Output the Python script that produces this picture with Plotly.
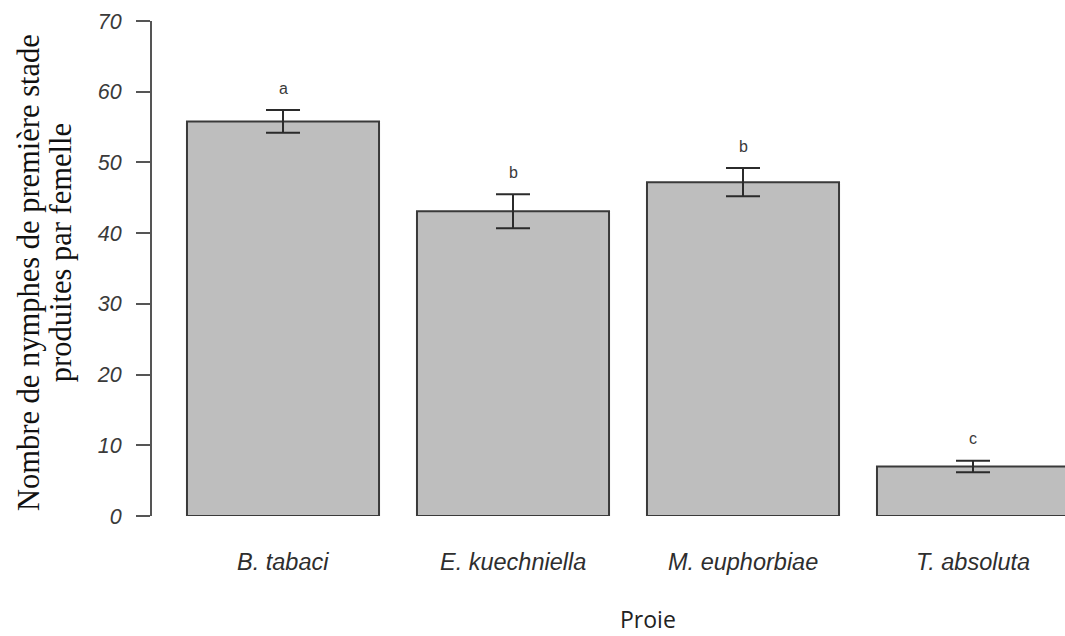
import plotly.graph_objects as go

# Prey species and mean number of first-stage nymphs per female
proies = ["B. tabaci", "E. kuechniella", "M. euphorbiae", "T. absoluta"]
moyennes = [55.8, 43.1, 47.2, 7.0]
erreurs = [1.6, 2.4, 2.0, 0.8]
lettres = ["a", "b", "b", "c"]
y_ticks = [0, 10, 20, 30, 40, 50, 60, 70]
titre_y = ["Nombre de nymphes de première stade", "produites par femelle"]

pos = list(range(len(proies)))
SANS = "Liberation Sans, Arial"

fig = go.Figure()
fig.add_trace(go.Bar(
    x=pos, y=moyennes, width=0.835,
    marker=dict(color="#bebebe", line=dict(color="#3a3a3a", width=2)),
    error_y=dict(type="data", array=erreurs, visible=True,
                 color="#2b2b2b", thickness=2, width=17),
    showlegend=False, hoverinfo="skip",
))

# significance letters above each error bar
for p, m, e, l in zip(pos, moyennes, erreurs, lettres):
    fig.add_annotation(x=p, y=m + e, text=l, showarrow=False,
                       yshift=22, yanchor="middle",
                       font=dict(family=SANS, size=16, color="#3a3a3a"))

# category labels under the bars
for p, name in zip(pos, proies):
    fig.add_annotation(x=p, y=0, yref="y", text=name, showarrow=False,
                       yshift=-46, yanchor="middle",
                       font=dict(family=SANS, size=23.5, color="#2e2e2e", style="italic"))

fig.add_annotation(x=0.543, xref="paper", y=-0.209, yref="paper",
                   text="Proie", showarrow=False, yanchor="middle",
                   font=dict(family="Open Sans, Liberation Sans", size=23, color="#222222"))

# two-line y title, each line placed separately for tight line spacing
for txt, xp, yp in zip(titre_y, [-0.1347, -0.0997], [0.491, 0.533]):
    fig.add_annotation(x=xp, xref="paper", y=yp, yref="paper", text=txt,
                       showarrow=False, textangle=-90,
                       xanchor="center", yanchor="middle",
                       font=dict(family="Liberation Serif, Times New Roman",
                                 size=30.5, color="#111111"))

fig.update_layout(
    width=1065, height=636,
    margin=dict(l=152, r=0, t=21, b=120),
    plot_bgcolor="white", paper_bgcolor="white",
    xaxis=dict(range=[-0.5696, 3.4], showticklabels=False, showline=False,
               showgrid=False, zeroline=False, ticks=""),
    yaxis=dict(range=[0, 70], tickvals=y_ticks, showline=True, linecolor="#555555",
               linewidth=2, ticks="outside", ticklen=14, tickwidth=2, tickcolor="#555555",
               showgrid=False, zeroline=False, ticklabelstandoff=10,
               tickfont=dict(family=SANS, size=21.5, color="#3a3a3a", style="italic")),
)

fig.write_html("out.html")
